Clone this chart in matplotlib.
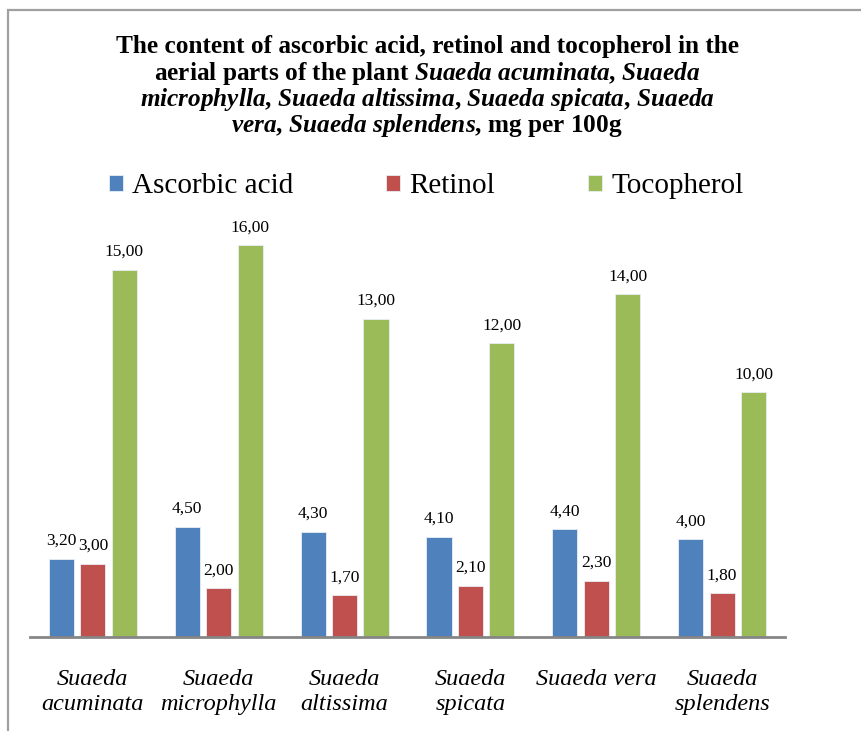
import matplotlib
matplotlib.use('Agg')
import matplotlib.pyplot as plt
import numpy as np
from matplotlib.patches import Rectangle

# data
species = ['Suaeda\nacuminata', 'Suaeda\nmicrophylla', 'Suaeda\naltissima',
           'Suaeda\nspicata', 'Suaeda vera', 'Suaeda\nsplendens']
ascorbic = [3.20, 4.50, 4.30, 4.10, 4.40, 4.00]
retinol = [3.00, 2.00, 1.70, 2.10, 2.30, 1.80]
tocopherol = [15.00, 16.00, 13.00, 12.00, 14.00, 10.00]

series = [('Ascorbic acid', ascorbic, '#4F81BD'),
          ('Retinol', retinol, '#C0504D'),
          ('Tocopherol', tocopherol, '#9BBB59')]

plt.rcParams['font.family'] = 'Liberation Serif'
plt.rcParams['mathtext.fontset'] = 'custom'
plt.rcParams['mathtext.rm'] = 'Liberation Serif:bold'
plt.rcParams['mathtext.it'] = 'Liberation Serif:bold:italic'

fig = plt.figure(figsize=(8.61, 7.31), dpi=100)
ax = fig.add_axes([0.0348, 0.1286, 0.877, 0.603])

x = np.arange(len(species))
handles = []
for i, (name, vals, col) in enumerate(series):
    bars = ax.bar(x + (i - 1) * 0.25, vals, width=0.2, color=col,
                  edgecolor='#e8eef6', linewidth=0.6, label=name)
    handles.append(bars)
    for b, v in zip(bars, vals):
        ax.annotate('{:.2f}'.format(v).replace('.', ','),
                    (b.get_x() + b.get_width() / 2, v),
                    xytext=(0, 7), textcoords='offset points',
                    ha='center', va='bottom', fontsize=12.5)

ax.set_xlim(-0.5, len(species) - 0.5)
ax.set_ylim(0, 18)
ax.set_yticks([])
ax.set_xticks(x)
ax.set_xticklabels(species, fontsize=17.5, style='italic', linespacing=1.25)
ax.tick_params(axis='x', length=0, pad=23)
for s in ['top', 'right', 'left']:
    ax.spines[s].set_visible(False)
ax.spines['bottom'].set_color('#868686')
ax.spines['bottom'].set_linewidth(2)

# title with italic species names
title = ['The content of ascorbic acid, retinol and tocopherol in the',
         r'aerial parts of the plant $\mathit{Suaeda\ acuminata{,}\ Suaeda}$',
         r'$\mathit{microphylla{,}\ Suaeda\ altissima{,}\ Suaeda\ spicata{,}\ Suaeda}$',
         r'$\mathit{vera{,}\ Suaeda\ splendens}$, mg per 100g']
for k, line in enumerate(title):
    fig.text(0.496, 1 - (47 + 26.3 * k) / 731, line, ha='center', va='center',
             fontsize=18.2, fontweight='bold')

fig.legend(handles=handles, loc='center', bbox_to_anchor=(0.495, 1 - 186 / 731),
           ncol=3, frameon=False, fontsize=21, handlelength=0.48,
           handleheight=0.48, handletextpad=0.3, columnspacing=3.2)

# outer frame
fig.patches.append(Rectangle((8 / 861, -0.05), 1.2, 1 - 10 / 731 + 0.05,
                             transform=fig.transFigure, fill=False,
                             edgecolor='#a0a0a0', linewidth=1.6))

fig.savefig('out.png', dpi=100)
